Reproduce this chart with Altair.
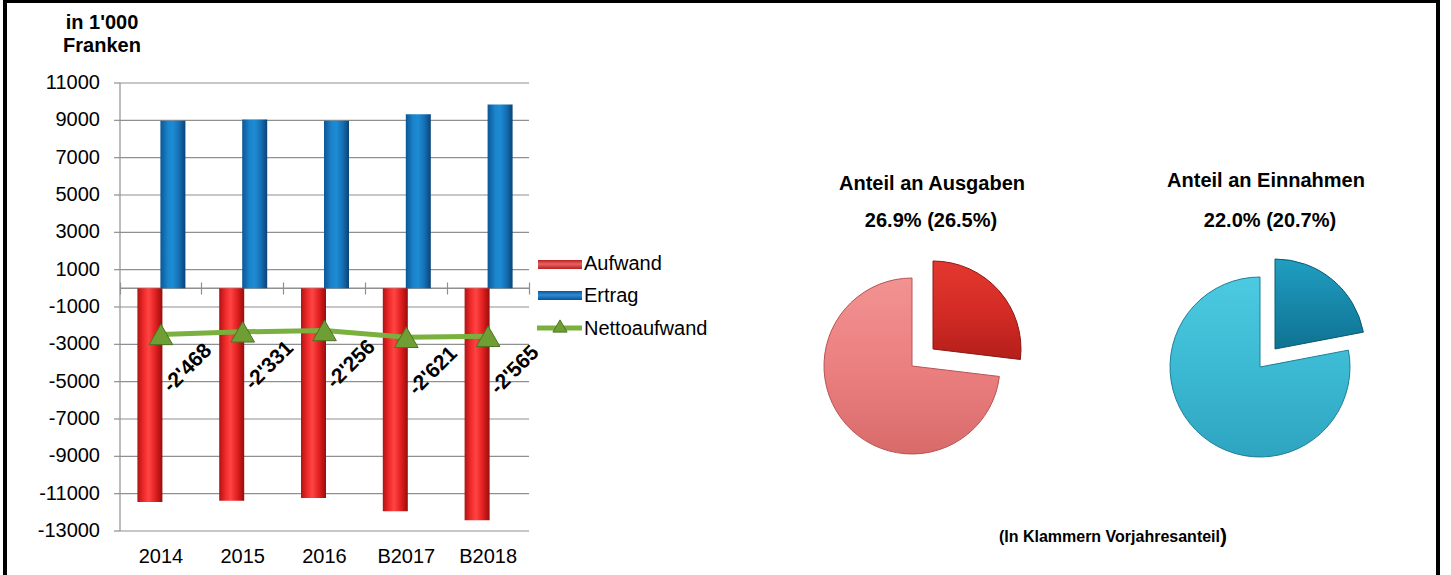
import altair as alt
import pandas as pd

FONT = "Liberation Sans"

# ---------------- data ----------------
years = ["2014", "2015", "2016", "B2017", "B2018"]
aufwand = [-11450, -11380, -11230, -11940, -12420]
ertrag = [8980, 9050, 8975, 9320, 9850]
nettoaufwand = [-2468, -2331, -2256, -2621, -2565]
netto_labels = ["-2'468", "-2'331", "-2'256", "-2'621", "-2'565"]
y_ticks = [11000, 9000, 7000, 5000, 3000, 1000, -1000, -3000, -5000,
           -7000, -9000, -11000, -13000]
axis_title = ["in 1'000", "Franken"]
legend_labels = ["Aufwand", "Ertrag", "Nettoaufwand"]
pie_titles = ["Anteil an Ausgaben", "Anteil an Einnahmen"]
pie_shares = [26.9, 22.0]
pie_prev_shares = [26.5, 20.7]
footnote = "(In Klammern Vorjahresanteil"
footnote_close = ")"

df = pd.DataFrame({"year": years, "aufwand": aufwand, "ertrag": ertrag,
                   "netto": nettoaufwand, "label": netto_labels})
grid_df = pd.DataFrame({"v": y_ticks})

GRID = "#909090"
xs = alt.Scale(domain=years, range=[120, 529], paddingInner=0, paddingOuter=0)
ys = alt.Scale(domain=[y_ticks[-1], y_ticks[0]], range=[531, 83], nice=False, zero=False)


def lin(stops, vertical=False):
    s = [alt.GradientStop(color=c, offset=o) for o, c in stops]
    if vertical:
        return alt.LinearGradient(gradient="linear", stops=s, x1=0, x2=0, y1=0, y2=1)
    return alt.LinearGradient(gradient="linear", stops=s, x1=0, x2=1, y1=0, y2=0)


red_bar = lin([(0, "#b01313"), (0.25, "#f02a2a"), (0.45, "#ff4444"), (0.72, "#e22020"), (1, "#980c0c")])
blue_bar = lin([(0, "#0c5696"), (0.3, "#1a84cc"), (0.5, "#1d8bd3"), (0.75, "#156fb4"), (1, "#0a4276")])
red_leg = lin([(0, "#b82222"), (0.45, "#e86262"), (1, "#b82020")], vertical=True)
blue_leg = lin([(0, "#0c5494"), (0.45, "#2c8cd8"), (1, "#0c5290")], vertical=True)

layers = []

# gridlines
layers.append(
    alt.Chart(grid_df).mark_rule(color=GRID, strokeWidth=1.2).encode(
        y=alt.Y("v:Q", scale=ys, axis=None),
        x=alt.value(120), x2=alt.value(529))
)
# value axis: tick marks, labels and axis line, placed with the y scale
layers.append(
    alt.Chart(grid_df).mark_rule(color=GRID, strokeWidth=1.2).encode(
        y=alt.Y("v:Q", scale=ys, axis=None),
        x=alt.value(114), x2=alt.value(120))
)
layers.append(
    alt.Chart(grid_df).transform_calculate(lab="datum.v + ''").mark_text(
        align="right", baseline="middle", fontSize=20, font=FONT, color="black").encode(
        y=alt.Y("v:Q", scale=ys, axis=None), x=alt.value(100), text="lab:N")
)
layers.append(
    alt.Chart(pd.DataFrame({"lo": [y_ticks[-1]], "hi": [y_ticks[0]]})).mark_rule(
        color=GRID, strokeWidth=1.2).encode(
        y=alt.Y("hi:Q", scale=ys, axis=None), y2="lo:Q", x=alt.value(120))
)

# zero line
layers.append(
    alt.Chart(pd.DataFrame({"z": [0]})).mark_rule(color=GRID, strokeWidth=1.5).encode(
        y=alt.Y("z:Q", scale=ys, axis=None), x=alt.value(120), x2=alt.value(529))
)

# Aufwand bars (carry the bottom category axis)
layers.append(
    alt.Chart(df).mark_bar(width=25, xOffset=-11, color=red_bar).encode(
        x=alt.X("year:N", scale=xs, axis=alt.Axis(
            orient="bottom", offset=-44, title=None, labelAngle=0, ticks=False,
            domain=False, grid=False, labelPadding=15, labelFont=FONT,
            labelFontSize=20, labelColor="black")),
        y=alt.Y("aufwand:Q", scale=ys, axis=None), y2=alt.datum(0))
)

# Ertrag bars
layers.append(
    alt.Chart(df).mark_bar(width=25, xOffset=12, color=blue_bar).encode(
        x=alt.X("year:N", scale=xs, axis=None),
        y=alt.Y("ertrag:Q", scale=ys, axis=None), y2=alt.datum(0))
)

# tick marks on the zero line (band boundaries)
layers.append(
    alt.Chart(df).mark_point(opacity=0).encode(
        x=alt.X("year:N", scale=xs, axis=alt.Axis(
            orient="top", offset=-294, labels=False, domain=False, ticks=True,
            tickSize=12, tickColor=GRID, tickWidth=1.2, bandPosition=1,
            tickExtra=True, title=None, grid=False)),
        y=alt.Y("netto:Q", scale=ys, axis=None))
)

# Nettoaufwand line + triangles + labels
layers.append(
    alt.Chart(df).mark_line(color="#79b03e", strokeWidth=5).encode(
        x=alt.X("year:N", scale=xs, axis=None),
        y=alt.Y("netto:Q", scale=ys, axis=None))
)
layers.append(
    alt.Chart(df).mark_point(shape="triangle-up", size=560, filled=True, fill="#6e9e34",
                             stroke="#4c7222", strokeWidth=1, opacity=1).encode(
        x=alt.X("year:N", scale=xs, axis=None),
        y=alt.Y("netto:Q", scale=ys, axis=None))
)
layers.append(
    alt.Chart(df).mark_text(angle=315, dx=-5, dy=43, fontSize=21, fontWeight="bold",
                            font=FONT, color="black", align="center",
                            baseline="middle").encode(
        x=alt.X("year:N", scale=xs, axis=None),
        y=alt.Y("netto:Q", scale=ys, axis=None),
        text="label:N")
)

# axis title
for t, yy in zip(axis_title, [23, 46]):
    layers.append(
        alt.Chart(pd.DataFrame({"t": [t]})).mark_text(
            fontSize=20, fontWeight="bold", font=FONT, color="black",
            align="center", baseline="middle").encode(
            x=alt.value(102), y=alt.value(yy), text="t:N")
    )

# legend
leg_df = [pd.DataFrame({"t": [l]}) for l in legend_labels]
layers.append(alt.Chart(leg_df[0]).mark_rect(color=red_leg).encode(
    x=alt.value(538), x2=alt.value(582), y=alt.value(260), y2=alt.value(269)))
layers.append(alt.Chart(leg_df[1]).mark_rect(color=blue_leg).encode(
    x=alt.value(538), x2=alt.value(582), y=alt.value(291), y2=alt.value(300)))
layers.append(alt.Chart(leg_df[2]).mark_rule(color="#79b03e", strokeWidth=5).encode(
    x=alt.value(537), x2=alt.value(582), y=alt.value(328)))
layers.append(alt.Chart(leg_df[2]).mark_point(
    shape="triangle-up", size=200, filled=True, fill="#6e9e34", stroke="#4c7222",
    strokeWidth=1, opacity=1).encode(x=alt.value(560), y=alt.value(326)))
for d, yy in zip(leg_df, [264, 296, 329]):
    layers.append(alt.Chart(d).mark_text(
        align="left", baseline="middle", fontSize=20, font=FONT, color="black").encode(
        x=alt.value(584), y=alt.value(yy), text="t:N"))

# pies
theta_scale = alt.Scale(domain=[0, 100], range=[0, 6.283185307179586])
pie_specs = [
    dict(big=(912, 366), small=(933, 349), r=88, title=(932, 184), share=(931, 221),
         big_fill=lin([(0, "#f29292"), (0.5, "#ec8080"), (1, "#d86a6a")], vertical=True),
         big_stroke="#b85454",
         small_fill=lin([(0, "#e2382f"), (0.5, "#d42c25"), (1, "#b41e1a")], vertical=True),
         small_stroke="#8a1814"),
    dict(big=(1260, 367), small=(1275, 349), r=90, title=(1266, 181), share=(1270, 221),
         big_fill=lin([(0, "#4ccae1"), (0.5, "#3cbad3"), (1, "#2ea4c0")], vertical=True),
         big_stroke="#1f7f98",
         small_fill=lin([(0, "#209ec0"), (0.5, "#1788aa"), (1, "#0f7292")], vertical=True),
         small_stroke="#0a5a74"),
]
for i, p in enumerate(pie_specs):
    pdf = pd.DataFrame({"share": [pie_shares[i]], "prev": [pie_prev_shares[i]],
                        "title": [pie_titles[i]]})
    base = alt.Chart(pdf).transform_calculate(
        zero="0", full="100",
        share_text="format(datum.share, '.1f') + '% (' + format(datum.prev, '.1f') + '%)'")
    layers.append(base.mark_arc(radius=p["r"], color=p["big_fill"], stroke=p["big_stroke"],
                                strokeWidth=1).encode(
        theta=alt.Theta("share:Q", scale=theta_scale), theta2=alt.Theta2("full"),
        x=alt.value(p["big"][0]), y=alt.value(p["big"][1])))
    layers.append(base.mark_arc(radius=p["r"], color=p["small_fill"], stroke=p["small_stroke"],
                                strokeWidth=1).encode(
        theta=alt.Theta("zero:Q", scale=theta_scale), theta2=alt.Theta2("share"),
        x=alt.value(p["small"][0]), y=alt.value(p["small"][1])))
    layers.append(base.mark_text(fontSize=20, fontWeight="bold", font=FONT, color="black",
                                 align="center", baseline="middle").encode(
        x=alt.value(p["title"][0]), y=alt.value(p["title"][1]), text="title:N"))
    layers.append(base.mark_text(fontSize=20, fontWeight="bold", font=FONT, color="black",
                                 align="center", baseline="middle").encode(
        x=alt.value(p["share"][0]), y=alt.value(p["share"][1]), text="share_text:N"))

# footnote
layers.append(alt.Chart(pd.DataFrame({"t": [footnote]})).mark_text(
    fontSize=16, fontWeight="bold", font=FONT, color="black", align="right",
    baseline="middle").encode(x=alt.value(1220), y=alt.value(537), text="t:N"))
layers.append(alt.Chart(pd.DataFrame({"t": [footnote_close]})).mark_text(
    fontSize=21, fontWeight="bold", font=FONT, color="black", align="left",
    baseline="middle").encode(x=alt.value(1220), y=alt.value(537), text="t:N"))

# outer frame
layers.append(alt.Chart(pd.DataFrame({"b": [0]})).mark_rect(
    filled=False, stroke="black", strokeWidth=4).encode(
    x=alt.value(5), x2=alt.value(1438), y=alt.value(1), y2=alt.value(600)))

chart = alt.layer(*layers).resolve_axis(x="independent").properties(
    width=1451, height=575, autosize=alt.AutoSizeParams(type="none"), padding=0,
    background="white"
).configure_view(strokeWidth=0)

chart.save("out.html", embed_options={"renderer": "svg", "actions": False})
